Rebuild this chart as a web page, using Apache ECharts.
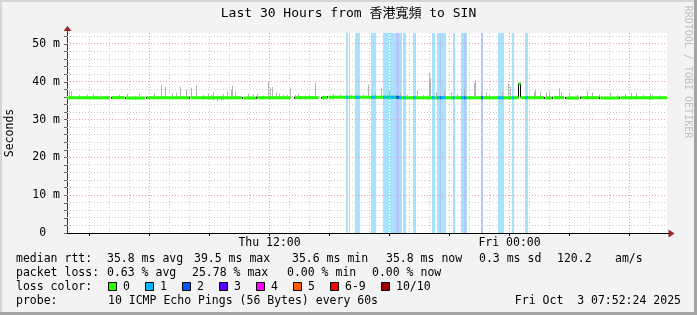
<!DOCTYPE html>
<html><head><meta charset="utf-8">
<script src="https://cdn.jsdelivr.net/npm/echarts@6/dist/echarts.min.js"></script>
<style>html,body{margin:0;padding:0;background:#f3f3f3;overflow:hidden}#c{width:697px;height:315px}</style>
</head><body><div id="c"></div><script>
const MONO = "'DejaVu Sans Mono', 'Noto Sans CJK TC', monospace";

// Time window: Thu 01:52:24 .. Fri 07:52:24 (x axis in hours after Thu 00:00)
const WINDOW_START = 1 + 52 / 60 + 24 / 3600;
const WINDOW_HOURS = 30;
const Y_MAX = 52.9;

// Axis ticks / labels
const xLabelHours = [12, 24];
const xLabelTexts = ['Thu 12:00', 'Fri 00:00'];
const xTickHours = [3, 6, 9, 12, 15, 18, 21, 24, 27, 30];
const yLabelValues = [0, 10, 20, 30, 40, 50];
const yLabelTexts = ['0  ', '10 m', '20 m', '30 m', '40 m', '50 m'];

// Median RTT (ms): step points, hours after window start; null = no data
const medianT = [0, 2.15, 2.25, 2.88, 2.95, 3.9, 4.0, 6.12, 6.18, 8.75, 8.82, 9.47, 9.53, 11.18, 11.4, 12.58, 12.75, 13.02, 13.08, 16.5, 19.5, 22.58, 22.68, 23.85, 23.92, 24.28, 24.33, 24.85, 24.95, 25.6, 25.7, 26.62, 26.68, 27.62, 27.68, 30];
const medianV = [35.8, null, 35.8, null, 35.7, null, 35.8, null, 35.8, null, 35.7, null, 35.8, null, 35.8, null, 35.8, null, 35.9, 35.8, 35.8, 39.5, 35.8, null, 35.7, null, 35.8, null, 35.7, null, 35.8, null, 35.7, null, 35.8, 35.8];

// Smoke (spread of pings, ms): hours after window start, low, high
const smokeT  = [0.13, 0.23, 1.03, 1.65, 3.03, 3.4, 4.35, 4.55, 4.73, 4.9,
                 5.28, 5.45, 5.65, 5.98, 6.2, 6.48, 7.1, 7.35, 7.5, 7.7,
                 7.8, 8.0, 8.23, 8.28, 8.43, 9.05, 9.5, 10.07, 10.18, 10.28,
                 10.48, 10.8, 11.0, 11.18, 11.55, 11.9, 12.43, 13.65, 15.05, 15.7,
                 16.12, 16.65, 17.52, 18.0, 18.12, 18.18, 18.45, 18.85, 19.2, 19.85,
                 20.1, 20.35, 20.43, 20.73, 20.98, 21.3, 21.78, 22.07, 22.15, 23.1,
                 23.35, 23.4, 23.68, 23.95, 24.12, 24.4, 24.62, 24.73, 25.1, 26.02,
                 26.28, 27.15, 28.23, 28.48, 29.15, 29.28,
                 0.6, 1.3, 2.0, 2.6, 3.6, 6.8, 7.2, 9.3, 9.8, 10.6,
                 11.4, 12.1, 12.8, 13.3, 14.2, 14.8, 15.4, 16.3, 17.0, 17.8,
                 19.5, 21.1, 22.4, 25.5, 26.6, 27.5, 27.9, 28.8, 29.6];
const smokeLo = [35.4, 35.5, 35.4, 35.2, 35.5, 35.2, 35.4, 35.3, 35.5, 35.5,
                 35.4, 35.5, 35.5, 35.4, 35.5, 35.5, 35.3, 35.1, 34.8, 35.0,
                 35.2, 35.3, 35.4, 35.4, 35.4, 35.3, 35.4, 35.5, 35.5, 35.4,
                 35.4, 35.3, 35.4, 35.5, 35.4, 35.2, 35.5, 35.4, 35.4, 35.4,
                 35.3, 35.4, 35.3, 35.2, 35.4, 35.4, 35.2, 35.3, 35.1, 35.4,
                 35.1, 35.4, 35.4, 35.3, 35.2, 35.3, 35.3, 35.4, 35.4, 35.2,
                 35.3, 35.4, 35.3, 35.3, 35.4, 35.3, 35.4, 35.4, 35.4, 35.4,
                 35.4, 35.4, 35.3, 35.4, 35.2, 35.3,
                 35.3, 35.4, 35.3, 35.4, 35.3, 35.2, 35.3, 35.4, 35.3, 35.3,
                 35.4, 35.3, 35.4, 35.3, 35.4, 35.3, 35.4, 35.3, 35.2, 35.3,
                 35.3, 35.4, 35.3, 35.4, 35.3, 35.4, 35.3, 35.4, 35.3];
const smokeHi = [37.4, 37.4, 36.6, 36.4, 36.8, 36.2, 36.9, 36.3, 39.2, 38.6,
                 36.9, 37.1, 38.7, 37.9, 38.4, 39.0, 36.8, 37.2, 36.3, 36.4,
                 36.8, 37.4, 37.9, 39.0, 37.4, 36.8, 36.8, 40.0, 38.4, 38.6,
                 37.1, 36.6, 36.6, 38.4, 36.8, 36.3, 39.8, 36.6, 39.2, 38.3,
                 37.7, 37.0, 37.7, 36.4, 42.4, 40.9, 37.2, 37.4, 37.2, 37.8,
                 36.3, 39.6, 40.5, 37.4, 37.2, 36.4, 37.3, 39.6, 38.8, 36.4,
                 37.2, 37.8, 37.4, 37.2, 37.4, 36.3, 38.3, 37.3, 37.1, 37.6,
                 37.2, 37.1, 37.1, 36.9, 36.8, 36.6,
                 36.5, 36.7, 36.4, 36.6, 36.9, 36.6, 36.5, 36.7, 36.4, 36.8,
                 36.5, 36.6, 36.4, 36.7, 36.5, 36.6, 36.8, 36.4, 36.6, 36.5,
                 36.7, 36.6, 36.4, 36.5, 36.6, 36.4, 36.7, 36.5, 36.4];

// Packet loss periods: hours after window start, loss level (pings lost of 10)
const lossStart = [13.95, 14.08, 14.4, 15.2, 15.8, 16.0, 16.13, 16.4, 16.45, 16.6, 16.8, 17.3, 18.25, 18.5, 18.65, 18.7, 19.28, 19.7, 19.85, 19.93, 20.7, 21.55, 21.75, 22.25, 22.9];
const lossEnd   = [14.03, 14.13, 14.63, 15.43, 15.98, 16.08, 16.38, 16.45, 16.6, 16.73, 16.93, 17.45, 18.38, 18.65, 18.7, 18.93, 19.38, 19.85, 19.93, 19.98, 20.8, 21.73, 21.83, 22.33, 23.05];
const lossLevel = [1, 1, 1, 1, 1, 1, 1, 1, 2, 1, 1, 1, 1, 1, 2, 1, 1, 1, 2, 1, 2, 1, 1, 1, 1];

// Legend
const lossLegendLabels = ['0', '1', '2', '3', '4', '5', '6-9', '10/10'];
const lossLegendColors = ['#26ff00', '#00b8ff', '#0059ff', '#5e00ff', '#ff00ff', '#ff5e00', '#ff0000', '#a10000'];
const lossBandColors = { 1: '#a8e3fd', 2: '#b4c6fd', 3: '#c8b4fd' };

function medianAt(t) {
  let v = null;
  for (let i = 0; i < medianT.length; i++) { if (medianT[i] <= t) v = medianV[i]; }
  return v;
}

const chart = echarts.init(document.getElementById('c'), null, { renderer: 'canvas' });

const vGrid = [];
for (let h = 2; h <= 31; h++) vGrid.push([h]);
const hGrid = [];
for (let v = 2; v <= 52; v += 2) hGrid.push([v]);
const yTickValues = [];
for (let v = 0; v <= 52; v += 2) yTickValues.push(v);

const medianData = medianT.map((t, i) => [WINDOW_START + t, medianV[i], i]);
const smokeData = smokeT.map((t, i) => [WINDOW_START + t, smokeLo[i], smokeHi[i]]);
const lossData = lossStart.map((s, i) => [WINDOW_START + s, WINDOW_START + lossEnd[i], lossLevel[i]]);

chart.setOption({
  animation: false,
  backgroundColor: '#f3f3f3',
  title: {
    text: 'Last 30 Hours from 香港寬頻 to SIN',
    left: 'center', top: 7, padding: 0,
    textStyle: { fontFamily: MONO, fontSize: 13, fontWeight: 'normal', color: '#000' }
  },
  grid: { left: 67, right: 30, top: 33, bottom: 82, show: true, backgroundColor: '#ffffff', borderWidth: 0, containLabel: false, outerBoundsMode: 'none' },
  xAxis: {
    type: 'value', min: WINDOW_START, max: WINDOW_START + WINDOW_HOURS,
    axisLine: { lineStyle: { color: '#000', width: 1 } },
    splitLine: { show: false },
    axisTick: { show: true, customValues: xTickHours, length: 3, lineStyle: { color: '#000' } },
    axisLabel: {
      customValues: xLabelHours,
      formatter: v => { const i = xLabelHours.indexOf(Math.round(v)); return i >= 0 ? xLabelTexts[i] : ''; },
      fontFamily: MONO, fontSize: 11.5, color: '#000', margin: 4
    }
  },
  yAxis: {
    type: 'value', min: 0, max: Y_MAX, interval: 10,
    name: 'Seconds', nameLocation: 'middle', nameGap: 51,
    nameTextStyle: { fontFamily: MONO, fontSize: 11.5, color: '#000' },
    axisLine: { show: true, lineStyle: { color: '#333', width: 1 } },
    splitLine: { show: false },
    axisTick: { show: true, customValues: yTickValues, length: 3, lineStyle: { color: '#666' } },
    axisLabel: {
      customValues: yLabelValues,
      formatter: v => { const i = yLabelValues.indexOf(Math.round(v * 10) / 10); return i >= 0 ? yLabelTexts[i] : ''; },
      fontFamily: MONO, fontSize: 11.5, color: '#000', margin: 7
    }
  },
  series: [
    { // packet loss bands
      type: 'custom', silent: true, z: 1, clip: true,
      data: lossData, encode: { x: [0, 1] },
      renderItem: (params, api) => {
        const cs = params.coordSys;
        const x1 = Math.round(api.coord([api.value(0), 0])[0]);
        const x2 = Math.round(api.coord([api.value(1), 0])[0]);
        return { type: 'rect', shape: { x: x1, y: cs.y, width: Math.max(1, x2 - x1), height: cs.height },
                 style: { fill: lossBandColors[api.value(2)] } };
      }
    },
    { // vertical grid lines
      type: 'custom', silent: true, z: 2, data: vGrid, encode: { x: 0 },
      renderItem: (params, api) => {
        const cs = params.coordSys;
        const h = api.value(0);
        const x = Math.floor(api.coord([h, 0])[0]) + 0.5;
        const major = Math.round(h) % 6 === 0;
        return { type: 'line', shape: { x1: x, y1: cs.y, x2: x, y2: cs.y + cs.height },
                 style: { stroke: major ? '#e6a3a3' : '#cfcfcf', lineWidth: 1, lineDash: [1, 2] } };
      }
    },
    { // horizontal grid lines
      type: 'custom', silent: true, z: 2, data: hGrid, encode: { y: 0 },
      renderItem: (params, api) => {
        const cs = params.coordSys;
        const v = api.value(0);
        const y = Math.floor(api.coord([WINDOW_START, v])[1]) + 0.5;
        const major = Math.round(v) % 10 === 0;
        return { type: 'line', shape: { x1: cs.x, y1: y, x2: cs.x + cs.width, y2: y },
                 style: { stroke: major ? '#e6a3a3' : '#cfcfcf', lineWidth: 1, lineDash: [1, 2] } };
      }
    },
    { // smoke
      type: 'custom', silent: true, z: 3, data: smokeData, encode: { x: 0, y: [1, 2] },
      renderItem: (params, api) => {
        const pLo = api.coord([api.value(0), api.value(1)]);
        const pHi = api.coord([api.value(0), api.value(2)]);
        return { type: 'rect', shape: { x: Math.floor(pLo[0]), y: pHi[1], width: 1, height: pLo[1] - pHi[1] },
                 style: { fill: '#b3b3b3' } };
      }
    },
    { // median line (step), black transitions + green body
      type: 'custom', silent: true, z: 4, data: medianData, encode: { x: 0, y: 1 },
      renderItem: (params, api) => {
        const i = api.value(2);
        const v = medianV[i];
        if (i >= medianT.length - 1 || v == null) return null;
        const tA = WINDOW_START + medianT[i], tB = WINDOW_START + medianT[i + 1];
        const a = api.coord([tA, v]), b = api.coord([tB, v]);
        const children = [];
        const vn = medianV[i + 1];
        if (vn != null && vn !== v) {
          const c = api.coord([tB, vn]);
          children.push({ type: 'line', shape: { x1: Math.floor(b[0]) + 0.5, y1: b[1], x2: Math.floor(b[0]) + 0.5, y2: c[1] }, style: { stroke: '#000', lineWidth: 1 } });
        }
        if (i > 0 && medianV[i - 1] == null) {
          children.push({ type: 'rect', shape: { x: Math.floor(a[0]) - 1, y: a[1] - 1, width: 1, height: 2 }, style: { fill: '#222' } });
        }
        children.push({ type: 'line', shape: { x1: a[0], y1: a[1], x2: b[0], y2: b[1] }, style: { stroke: '#26ff00', lineWidth: 3 } });
        return { type: 'group', children };
      }
    },
    { // loss-coloured median overlay
      type: 'custom', silent: true, z: 5, data: lossData, encode: { x: [0, 1] },
      renderItem: (params, api) => {
        const s = api.value(0), e = api.value(1);
        const v = medianAt(s - WINDOW_START);
        if (v == null) return null;
        const a = api.coord([s, v]), b = api.coord([e, v]);
        return { type: 'line', shape: { x1: a[0], y1: a[1], x2: Math.max(b[0], a[0] + 1), y2: b[1] },
                 style: { stroke: lossLegendColors[api.value(2)], lineWidth: 3 } };
      }
    }
  ]
});

// Decorations: frame, arrows, legend text
const g = [];
g.push({ type: 'rect', shape: { x: 0, y: 0, width: 697, height: 2 }, style: { fill: '#d6d6d6' }, silent: true });
g.push({ type: 'rect', shape: { x: 0, y: 0, width: 2, height: 315 }, style: { fill: '#d6d6d6' }, silent: true });
g.push({ type: 'rect', shape: { x: 694, y: 0, width: 3, height: 315 }, style: { fill: '#a3a3a3' }, silent: true });
g.push({ type: 'rect', shape: { x: 0, y: 312, width: 697, height: 3 }, style: { fill: '#a3a3a3' }, silent: true });

const pEnd = chart.convertToPixel({ gridIndex: 0 }, [WINDOW_START + WINDOW_HOURS, 0]);
const pTop = chart.convertToPixel({ gridIndex: 0 }, [WINDOW_START, Y_MAX]);
const ARROW = '#9a2424';
g.push({ type: 'line', shape: { x1: pEnd[0], y1: Math.round(pEnd[1]) + 0.5, x2: pEnd[0] + 2, y2: Math.round(pEnd[1]) + 0.5 }, style: { stroke: '#000', lineWidth: 1 }, silent: true });
g.push({ type: 'polygon', shape: { points: [[pEnd[0] + 1.5, pEnd[1] - 3.5], [pEnd[0] + 7.5, pEnd[1] + 0.5], [pEnd[0] + 1.5, pEnd[1] + 4.5]] }, style: { fill: ARROW }, silent: true });
g.push({ type: 'line', shape: { x1: Math.round(pTop[0]) + 0.5, y1: pTop[1], x2: Math.round(pTop[0]) + 0.5, y2: pTop[1] - 2 }, style: { stroke: '#333', lineWidth: 1 }, silent: true });
g.push({ type: 'polygon', shape: { points: [[pTop[0] - 3.5, pTop[1] - 2], [pTop[0] + 0.5, pTop[1] - 7], [pTop[0] + 4.5, pTop[1] - 2]] }, style: { fill: ARROW }, silent: true });

function txt(x, y, text, opts) {
  opts = opts || {};
  g.push({ type: 'text', x: x, y: y, rotation: opts.rotation || 0, silent: true,
    style: { text: text, fontFamily: MONO, fontSize: opts.size || 11.5, fill: opts.color || '#000',
      align: opts.align || 'left', verticalAlign: 'middle', textAlign: opts.align || 'left', textVerticalAlign: 'middle' } });
}
txt(688, 72, 'RRDTOOL / TOBI OETIKER', { rotation: -Math.PI / 2, align: 'center', size: 10, color: '#bfbfbf' });

const rowY = [259, 273, 287, 301];
txt(16, rowY[0], 'median rtt:');
txt(107, rowY[0], '35.8 ms avg');
txt(194, rowY[0], '39.5 ms max');
txt(292, rowY[0], '35.6 ms min');
txt(386, rowY[0], '35.8 ms now');
txt(479, rowY[0], '0.3 ms sd');
txt(557, rowY[0], '120.2');
txt(615, rowY[0], 'am/s');
txt(16, rowY[1], 'packet loss:');
txt(107, rowY[1], '0.63 % avg');
txt(192, rowY[1], '25.78 % max');
txt(287, rowY[1], '0.00 % min');
txt(372, rowY[1], '0.00 % now');
txt(16, rowY[2], 'loss color:');
const swX = [108, 145, 182, 219, 256, 293, 330, 381];
lossLegendLabels.forEach((lab, i) => {
  g.push({ type: 'rect', silent: true, shape: { x: swX[i] + 0.5, y: rowY[2] - 4.5, width: 8, height: 8 }, style: { fill: lossLegendColors[i], stroke: '#000', lineWidth: 1 } });
  txt(swX[i] + 15, rowY[2], lab);
});
txt(16, rowY[3], 'probe:');
txt(108, rowY[3], '10 ICMP Echo Pings (56 Bytes) every 60s');
txt(681, rowY[3], 'Fri Oct  3 07:52:24 2025', { align: 'right' });

chart.setOption({ graphic: { elements: g } });
</script></body></html>
